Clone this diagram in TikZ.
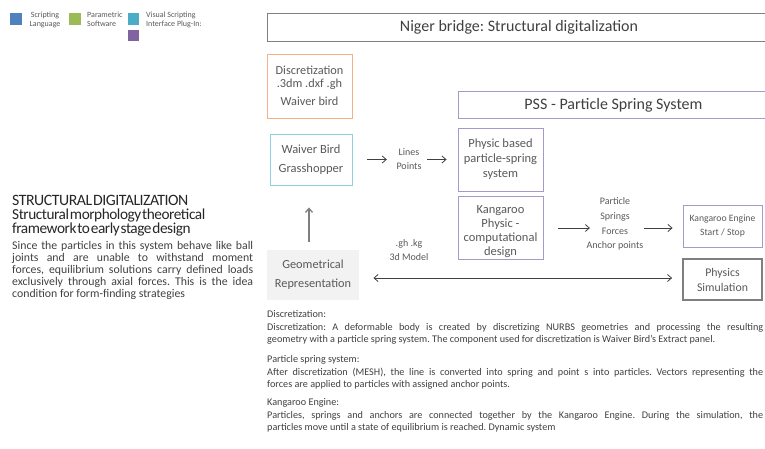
\documentclass[tikz,border=0pt]{standalone}
\usepackage{fontspec}
\setmainfont{Carlito}
\newfontfamily\condfont[LetterSpace=-3,WordSpace=0.3]{Carlito}
\usetikzlibrary{arrows.meta}
\definecolor{tx}{HTML}{404040}
\definecolor{tx2}{HTML}{595959}
\definecolor{lgblue}{HTML}{4F81BD}
\definecolor{lggreen}{HTML}{9BBB59}
\definecolor{lgcyan}{HTML}{4BACC6}
\definecolor{lgpurple}{HTML}{8064A2}
\definecolor{orb}{HTML}{F4B183}
\definecolor{cyb}{HTML}{8ECFE0}
\definecolor{pub}{HTML}{A898CC}
\definecolor{grb}{HTML}{7F7F7F}
\definecolor{geofill}{HTML}{F2F2F2}
\tikzset{
  sq/.style={minimum size=11.5pt, inner sep=0pt},
  legtxt/.style={font=\fontsize{8}{9}\selectfont, text=tx2, inner sep=0pt},
  boxnode/.style={draw, line width=0.9pt, inner sep=0pt, align=center, text=tx2},
  smalltxt/.style={text=tx2, align=center, inner sep=0pt},
  arr/.style={draw=tx, line width=0.8pt, -{Straight Barb[length=4pt,width=7pt]}},
  darr/.style={draw=tx, line width=0.8pt, {Straight Barb[length=4pt,width=7pt]}-{Straight Barb[length=4pt,width=7pt]}},
  uparr/.style={draw=grb, line width=1.3pt, -{Straight Barb[length=4pt,width=7pt]}},
  para/.style={anchor=north west, inner sep=0pt, align=justify, text=tx}
}
\begin{document}
\frenchspacing
\begin{tikzpicture}[x=1pt,y=-1pt]
\useasboundingbox (0,0) rectangle (765,448);
\clip (0,0) rectangle (765,448);

% legend
\node[sq, fill=lgblue] (lb) at (16,19) {};
\node[legtxt, align=center] (lbt) at (45,19.5) {Scripting\\Language};
\node[sq, fill=lggreen] (lg) at (75,19) {};
\node[legtxt, align=left, anchor=west] (lgt) at (87,19.5) {Parametric\\Software};
\node[sq, fill=lgcyan] (lc) at (133.5,19) {};
\node[legtxt, align=left, anchor=west] (lct) at (146,19.5) {Visual Scripting\\Interface Plug-In:};
\node[sq, fill=lgpurple] (lp) at (133.5,35.5) {};

% left text
\node[anchor=base west, inner sep=0pt, text=black!85, font=\condfont\fontsize{15.8}{14}\selectfont] (h1) at (12,205) {STRUCTURAL DIGITALIZATION};
\node[anchor=base west, inner sep=0pt, text=black!85, font=\condfont\fontsize{15.3}{14}\selectfont] (h2) at (12,219.5) {Structural morphology theoretical};
\node[anchor=base west, inner sep=0pt, text=black!85, font=\condfont\fontsize{15.3}{14}\selectfont] (h3) at (12,233.5) {framework to early stage design};
\node[para, text width=241pt, font=\fontsize{11.8}{12}\selectfont] (body) at (12,241) {Since the particles in this system behave like ball\linebreak joints and are unable to withstand moment\linebreak forces, equilibrium solutions carry defined loads\linebreak exclusively through axial forces. This is the idea\linebreak condition for form-finding strategies};

% title boxes
\node[boxnode, draw=grb, line width=1pt, minimum width=503pt, minimum height=28pt, anchor=north west, font=\fontsize{16}{18}\selectfont, text=tx] (title) at (267,13) {Niger bridge: Structural digitalization};
\node[boxnode, draw=pub, minimum width=310pt, minimum height=27pt, anchor=north west, font=\fontsize{16}{18}\selectfont, text=tx] (pss) at (458,91) {PSS - Particle Spring System};

% boxes
\node[boxnode, draw=orb, minimum width=85pt, minimum height=64pt, font=\fontsize{12.3}{13}\selectfont] (disc) at (309.5,86) {Discretization\\.3dm .dxf .gh\\[5pt]Waiver bird};
\node[boxnode, draw=cyb, minimum width=82pt, minimum height=51pt, font=\fontsize{12.5}{19}\selectfont] (wb) at (311,159.5) {Waiver Bird\\Grasshopper};
\node[smalltxt, font=\fontsize{10}{14}\selectfont] (lpts) at (409,159) {Lines\\Points};
\node[boxnode, draw=pub, minimum width=85pt, minimum height=63pt, font=\fontsize{12.5}{15}\selectfont] (phys) at (500.5,159.5) {Physic based\\particle-spring\\system};
\node[boxnode, draw=pub, minimum width=85pt, minimum height=63pt, font=\fontsize{12.5}{14}\selectfont] (kp) at (500.5,227.5) {\rule{0pt}{17pt}Kangaroo\\Physic -\\computational\\design};
\node[smalltxt, font=\fontsize{10}{14.7}\selectfont] (psfa) at (615,224) {Particle\\Springs\\Forces\\Anchor points};
\node[boxnode, draw=pub, minimum width=79pt, minimum height=42pt, font=\fontsize{9.7}{14}\selectfont] (ke) at (722.5,226) {Kangaroo Engine\\Start / Stop};
\node[boxnode, draw=grb, line width=1.8pt, minimum width=79pt, minimum height=41pt, font=\fontsize{11.8}{15}\selectfont] (sim) at (722.5,279.5) {Physics\\Simulation};
\node[boxnode, draw=none, fill=geofill, minimum width=92pt, minimum height=50pt, font=\fontsize{12.3}{19}\selectfont] (geo) at (313,275) {Geometrical\\Representation};
\node[smalltxt, font=\fontsize{10}{14}\selectfont] (ghkg) at (409,250) {.gh .kg\\3d Model};

% connectors
\draw[arr, shorten <=15pt, shorten >=9.5pt] (wb.east) -- (lpts.west |- wb.east);
\draw[arr, shorten <=5.5pt, shorten >=11pt] (lpts.east |- wb.east) -- (phys.west |- wb.east);
\draw[arr, shorten <=15pt, shorten >=-3.5pt] ([yshift=-0.5pt]kp.east) -- ([yshift=-0.5pt]kp.east -| psfa.west);
\draw[arr, shorten <=0pt, shorten >=10pt] ([yshift=-0.5pt]kp.east -| psfa.east) -- ([yshift=-0.5pt]kp.east -| ke.west);
\draw[darr, shorten <=14pt, shorten >=10pt] ([yshift=-3pt]geo.east) -- ([yshift=-3pt]geo.east -| sim.west);
\draw[uparr, shorten <=8pt, shorten >=22pt] ([xshift=-4pt]geo.north) -- ([xshift=-4pt]geo.north |- wb.south);

% bottom text
\node[para, text width=496pt, font=\fontsize{10.2}{12.5}\selectfont] (p1) at (267,310.5) {Discretization:\\Discretization: A deformable body is created by discretizing NURBS geometries and processing the resulting\linebreak geometry with a particle spring system. The component used for discretization is Waiver Bird's Extract panel.};
\node[para, text width=496pt, font=\fontsize{10.2}{12.5}\selectfont] (p2) at (267,355.5) {Particle spring system:\\After discretization (MESH), the line is converted into spring and point s into particles. Vectors representing the\linebreak forces are applied to particles with assigned anchor points.};
\node[para, text width=496pt, font=\fontsize{10.2}{12.5}\selectfont] (p3) at (267,398.5) {Kangaroo Engine:\\Particles, springs and anchors are connected together by the Kangaroo Engine. During the simulation, the\linebreak particles move until a state of equilibrium is reached. Dynamic system};
\end{tikzpicture}
\end{document}
